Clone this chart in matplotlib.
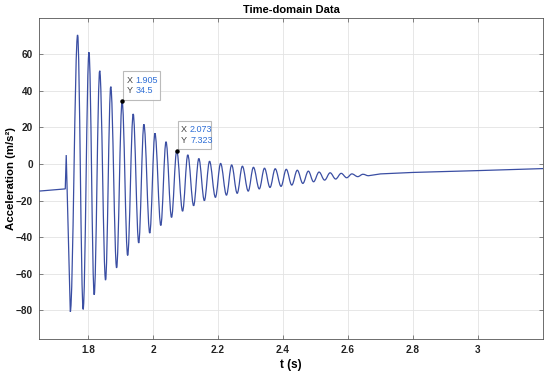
import numpy as np
import matplotlib
matplotlib.use("Agg")
import matplotlib.pyplot as plt
from matplotlib.patches import Rectangle, PathPatch
from matplotlib.path import Path
from matplotlib.transforms import ScaledTranslation

# ---- data ----
pre_t = [1.65, 1.730]
pre_v = [-14.8, -13.6]
spike_t = [1.733]
spike_v = [4.9]
trough_t = [1.7455, 1.785, 1.819, 1.854, 1.888, 1.922, 1.956, 1.990, 2.024, 2.057,
            2.091, 2.125, 2.158, 2.192, 2.226, 2.259, 2.293, 2.327, 2.360, 2.394,
            2.427, 2.461, 2.494, 2.528, 2.562, 2.596, 2.630, 2.663]
trough_v = [-80.8, -79.5, -71.5, -63.5, -56.8, -50.0, -43.2, -37.8, -33.6, -29.2,
            -25.8, -22.8, -20.0, -18.2, -17.0, -16.0, -14.8, -13.6, -12.8, -12.2,
            -11.5, -10.6, -9.7, -8.8, -8.2, -7.5, -6.9, -6.4]
peak_t = [1.768, 1.803, 1.836, 1.870, 1.905, 1.939, 1.972, 2.006, 2.040, 2.073,
          2.107, 2.141, 2.174, 2.208, 2.242, 2.275, 2.309, 2.343, 2.376, 2.410,
          2.444, 2.478, 2.511, 2.545, 2.579, 2.612, 2.646]
peak_v = [70.6, 61.1, 51.0, 42.3, 34.5, 27.4, 21.7, 16.8, 12.2, 7.323,
          5.0, 3.0, 1.5, 0.3, -0.5, -1.2, -1.8, -2.3, -2.6, -2.9,
          -3.4, -3.9, -4.4, -4.8, -5.1, -5.4, -5.6]
tail_t = [2.70, 2.80, 3.00, 3.20]
tail_v = [-5.4, -4.6, -3.6, -2.5]

tip_x = [1.905, 2.073]
tip_y = [34.5, 7.323]
tip_xlabels = ["1.905", "2.073"]
tip_ylabels = ["34.5", "7.323"]

xticks = [1.8, 2.0, 2.2, 2.4, 2.6, 2.8, 3.0]
xticklabels = ["1.8", "2", "2.2", "2.4", "2.6", "2.8", "3"]
yticks = [-80, -60, -40, -20, 0, 20, 40, 60]

# ---- assemble the oscillation extrema (sorted in time) ----
ext_t = np.concatenate([trough_t, peak_t])
ext_v = np.concatenate([trough_v, peak_v])
order = np.argsort(ext_t)
ext_t, ext_v = ext_t[order], ext_v[order]

# path: straight segments before impact, smooth (horizontal-tangent) curves
# between consecutive extrema, straight drift afterwards
verts = [(pre_t[0], pre_v[0]), (pre_t[1], pre_v[1]),
         (spike_t[0], spike_v[0]), (ext_t[0], ext_v[0])]
codes = [Path.MOVETO, Path.LINETO, Path.LINETO, Path.LINETO]
for i in range(1, len(ext_t)):
    t0, v0 = ext_t[i - 1], ext_v[i - 1]
    t1, v1 = ext_t[i], ext_v[i]
    dt = t1 - t0
    verts += [(t0 + 0.36 * dt, v0), (t1 - 0.36 * dt, v1), (t1, v1)]
    codes += [Path.CURVE4, Path.CURVE4, Path.CURVE4]
for tt, vv in zip(tail_t, tail_v):
    verts.append((tt, vv))
    codes.append(Path.LINETO)

plt.rcParams['font.family'] = ['Liberation Sans', 'DejaVu Sans']

fig = plt.figure(figsize=(5.5, 3.75), dpi=100)
ax = fig.add_axes([39/550, 36/375, 504/550, 320.7/375])

ax.add_patch(PathPatch(Path(verts, codes), fill=False, edgecolor='#3a4ea3',
                       lw=0.9, zorder=3))

ax.set_xlim(1.6492, 3.2)
ax.set_ylim(-95.7, 79.7)
ax.set_xticks(xticks)
ax.set_xticklabels(xticklabels)
ax.set_yticks(yticks)
ax.grid(True, color='#e3e3e3', lw=0.6)
ax.set_axisbelow(True)
for s in ax.spines.values():
    s.set_color('#555555')
    s.set_linewidth(0.6)
ax.tick_params(direction='in', length=3, width=0.5, color='#555555',
               top=True, right=True, labelsize=7.2, labelcolor='#222222', pad=4.5)
for lab in ax.get_xticklabels() + ax.get_yticklabels():
    lab.set_fontweight('bold')

ax.set_title('Time-domain Data', fontsize=8, fontweight='bold', pad=4)
ax.set_xlabel('t (s)', fontsize=8.5, fontweight='bold', labelpad=3)
ax.set_ylabel('Acceleration (m/s²)', fontsize=8.2, fontweight='bold')
ax.yaxis.set_label_coords(-0.046, 0.5)

# ---- datatips ----
boxes = [(0.010, 0.014, 0.373, 0.286), (0.010, 0.017, 0.336, 0.283)]
for i in range(len(tip_x)):
    tr = fig.dpi_scale_trans + ScaledTranslation(tip_x[i], tip_y[i], ax.transData)
    bx, by, bw, bh = boxes[i]
    ax.add_patch(Rectangle((bx, by), bw, bh, transform=tr, facecolor='white',
                           alpha=0.92, edgecolor='#b5b5b5', lw=0.8, zorder=5))
    ax.plot([tip_x[i]], [tip_y[i]], 'o', ms=2.2, color='black', zorder=6)
    ax.text(0.045, 0.207, 'X', transform=tr, fontsize=6.5, color='#404040',
            va='center', ha='left', zorder=7)
    ax.text(0.133, 0.207, tip_xlabels[i], transform=tr, fontsize=6.5, color='#2f6fd6',
            va='center', ha='left', zorder=7)
    ax.text(0.045, 0.100, 'Y', transform=tr, fontsize=6.5, color='#404040',
            va='center', ha='left', zorder=7)
    ax.text(0.133, 0.100, tip_ylabels[i], transform=tr, fontsize=6.5, color='#2f6fd6',
            va='center', ha='left', zorder=7)

fig.savefig('out.png', dpi=100)
